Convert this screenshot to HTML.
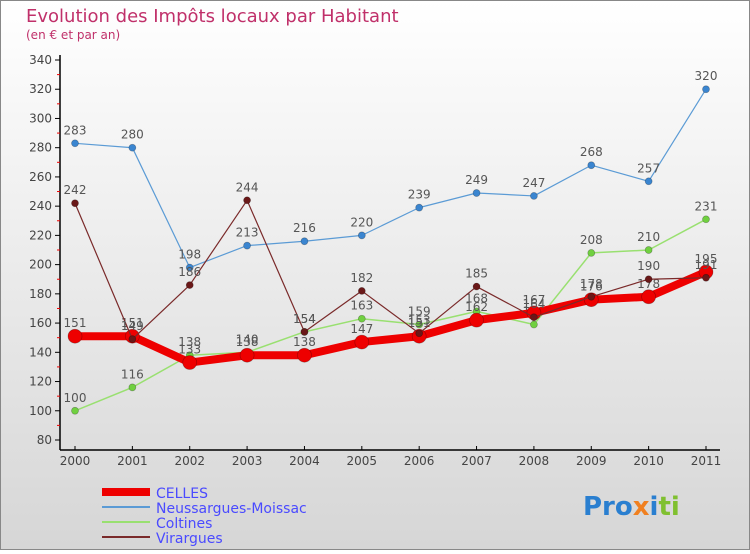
<!DOCTYPE html>
<html><head><meta charset="utf-8"><style>
body{margin:0;width:750px;height:550px;overflow:hidden;font-family:"DejaVu Sans","Liberation Sans",sans-serif}
</style></head><body>
<svg id="chart" width="750" height="550" xmlns="http://www.w3.org/2000/svg">
<defs><linearGradient id="bg" x1="0" y1="0" x2="0" y2="1"><stop offset="0" stop-color="#ffffff"/><stop offset="1" stop-color="#d6d6d6"/></linearGradient></defs>
<rect x="0.5" y="0.5" width="749" height="549" fill="url(#bg)" stroke="#888"/>
<text x="26" y="22" font-size="18" fill="#c0306a">Evolution des Impôts locaux par Habitant</text>
<text x="26" y="39" font-size="12" fill="#c0306a">(en € et par an)</text>
<g id="axes"></g>
<g id="series"></g>
<g id="legend">
<line x1="102" y1="492" x2="150" y2="492" stroke="#ee0000" stroke-width="8"/>
<text x="156" y="498" font-size="14" fill="#4a4aff">CELLES</text>
<line x1="102" y1="507" x2="150" y2="507" stroke="#5b9bd5" stroke-width="2"/>
<text x="156" y="513" font-size="14" fill="#4a4aff">Neussargues-Moissac</text>
<line x1="102" y1="522" x2="150" y2="522" stroke="#99e070" stroke-width="2"/>
<text x="156" y="528" font-size="14" fill="#4a4aff">Coltines</text>
<line x1="102" y1="537" x2="150" y2="537" stroke="#7a2a2a" stroke-width="2"/>
<text x="156" y="543" font-size="14" fill="#4a4aff">Virargues</text>
</g>
<text x="583" y="515" font-size="26" font-weight="bold" fill="#2a7fd0">Pro<tspan fill="#f08020">x</tspan><tspan fill="#2a7fd0">i</tspan><tspan fill="#80c030">ti</tspan></text>
</svg>
<script>
const years=[2000,2001,2002,2003,2004,2005,2006,2007,2008,2009,2010,2011];
const celles=[151,151,133,138,138,147,151,162,167,176,178,195];
const neuss=[283,280,198,213,216,220,239,249,247,268,257,320];
const coltines=[100,116,138,140,154,163,159,168,159,208,210,231];
const virargues=[242,149,186,244,154,182,153,185,164,178,190,191];
const yTicks=[80,100,120,140,160,180,200,220,240,260,280,300,320,340];
const NS="http://www.w3.org/2000/svg";
const x=i=>75+i*(706-75)/(years.length-1);
const y=v=>440-(v-80)*380/260;
function mk(tag,attrs,parent){const e=document.createElementNS(NS,tag);for(const k in attrs)e.setAttribute(k,attrs[k]);parent.appendChild(e);return e;}
const ax=document.getElementById('axes');
let l=mk('line',{x1:60,y1:55,x2:60,y2:450,stroke:'#000','stroke-width':1.5},ax);


l=mk('line',{x1:60,y1:450,x2:720,y2:450,stroke:'#000','stroke-width':1.5},ax);


yTicks.forEach((v,i)=>{
  const t=mk('line',{x1:55,y1:y(v),x2:60,y2:y(v),stroke:'#000'},ax);
  
  
  if(i<yTicks.length-1){const m=mk('line',{x1:57,y1:y(v+10),x2:60,y2:y(v+10),stroke:'#e00'},ax);
  
  }
  const tx=mk('text',{x:52,y:y(v)+4,'text-anchor':'end','font-size':12,fill:'#444'},ax);tx.textContent=v;
  
  
});
years.forEach((yr,i)=>{
  const t=mk('line',{x1:x(i),y1:446,x2:x(i),y2:450,stroke:'#000'},ax);
  
  
  const tx=mk('text',{x:x(i),y:465,'text-anchor':'middle','font-size':12,fill:'#444'},ax);tx.textContent=yr;
  
  
});
const sg=document.getElementById('series');
function series(name,data,color,w,r,dot){
  const g=mk('g',{},sg);
  
  
  const p=mk('polyline',{points:data.map((v,i)=>x(i)+','+y(v)).join(' '),fill:'none',stroke:color,'stroke-width':w,'stroke-linejoin':'round'},g);
  
  
  data.forEach((v,i)=>{
    const c=mk('circle',{cx:x(i),cy:y(v),r:r,fill:dot,stroke:'rgba(0,0,0,0.3)','stroke-width':0.7},g);
    
    
    const t=mk('text',{x:x(i),y:y(v)-9,'text-anchor':'middle','font-size':12,fill:'#555'},g);t.textContent=v;
    
    
  });
}
series('neussargues',neuss,'#5b9bd5',1.2,3.5,'#3a85d0');
series('coltines',coltines,'#99e070',1.5,3.5,'#70d040');
series('celles',celles,'#ee0000',8,7,'#ee0000');
series('virargues',virargues,'#7a2a2a',1.2,3.5,'#6a1818');
</script>
</body></html>
